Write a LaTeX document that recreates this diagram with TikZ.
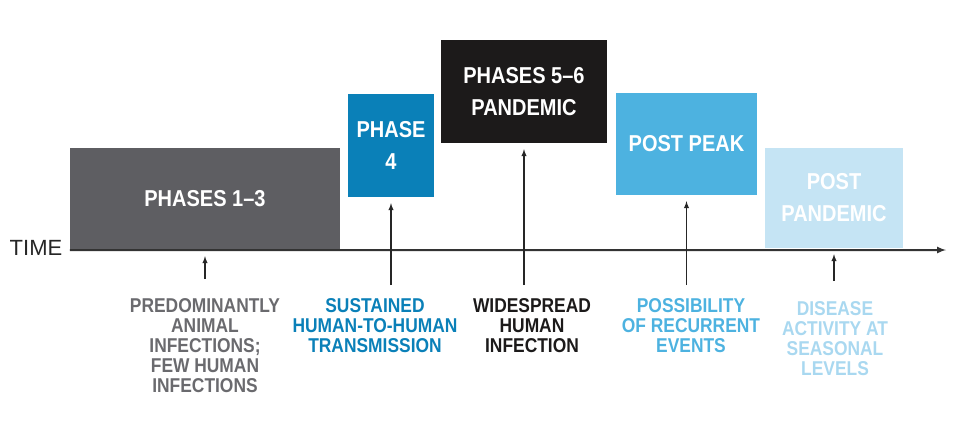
\documentclass[tikz,border=0pt]{standalone}
\usepackage{fontspec}
\setmainfont{Liberation Sans}
\newfontfamily\condfont[FakeStretch=0.87,Ligatures=TeX]{Liberation Sans}
\definecolor{phasegray}{HTML}{5E5E62}
\definecolor{phaseblue}{HTML}{0A80B8}
\definecolor{phaseblack}{HTML}{1C1A1A}
\definecolor{peakblue}{HTML}{4DB2E0}
\definecolor{paleblue}{HTML}{C5E4F4}
\definecolor{labgray}{HTML}{6A6A6E}
\definecolor{labpale}{HTML}{A9D8F0}
\begin{document}
\begin{tikzpicture}
    [
    x=1pt,y=-1pt,
    phasebox/.style={draw=none,inner sep=0pt,text=white,align=center,
      font=\condfont\bfseries\fontsize{23}{32}\selectfont},
    phaselabel/.style={anchor=north,inner sep=0pt,align=center,
      font=\condfont\bfseries\fontsize{20}{20}\selectfont},
    pointer/.style={-latex,line width=1.4pt,draw=black!85,shorten >=6pt},
    ]
    \useasboundingbox (0,0) rectangle (965,426);
    \node (p13) at (205,199) [phasebox,fill=phasegray,minimum width=270pt,minimum height=102pt] {PHASES 1–3};
    \node (p4) at (391,145.5) [phasebox,fill=phaseblue,minimum width=86pt,minimum height=103pt] {PHASE\\4};
    \node (p56) at (524,91.5) [phasebox,fill=phaseblack,minimum width=166pt,minimum height=103pt] {PHASES 5–6\\PANDEMIC};
    \node (pp) at (686.5,144) [phasebox,fill=peakblue,minimum width=141pt,minimum height=102pt] {POST PEAK};
    \node (pand) at (834,198) [phasebox,fill=paleblue,minimum width=138pt,minimum height=100pt] {POST\\PANDEMIC};
    \node (time) at (36,248) [font=\fontsize{22}{24}\selectfont,text=black!85] {TIME};
    \coordinate (t0) at (p13.south west);
    \coordinate (t1) at (946,250);
    \draw [-latex,line width=2pt,draw=black!80] (t0) -- (t1);
    \node (l13) at (205,298) [phaselabel,text=labgray] {PREDOMINANTLY\\ANIMAL\\INFECTIONS;\\FEW HUMAN\\INFECTIONS};
    \node (l4) at (375,298) [phaselabel,text=phaseblue] {SUSTAINED\\HUMAN-TO-HUMAN\\TRANSMISSION};
    \node (l56) at (532,298) [phaselabel,text=phaseblack] {WIDESPREAD\\HUMAN\\INFECTION};
    \node (lpp) at (691,298) [phaselabel,text=peakblue] {POSSIBILITY\\OF RECURRENT\\EVENTS};
    \node (lpand) at (835,301) [phaselabel,text=labpale] {DISEASE\\ACTIVITY AT\\SEASONAL\\LEVELS};
    \draw [pointer] (p13.south |- 0,279) -- (p13.south);
    \draw [pointer] (p4.south |- 0,285) -- (p4.south);
    \draw [pointer] (p56.south |- 0,285) -- (p56.south);
    \draw [pointer] (pp.south |- 0,285) -- (pp.south);
    \draw [pointer] (pand.south |- 0,281) -- (pand.south);
  \end{tikzpicture}
\end{document}
